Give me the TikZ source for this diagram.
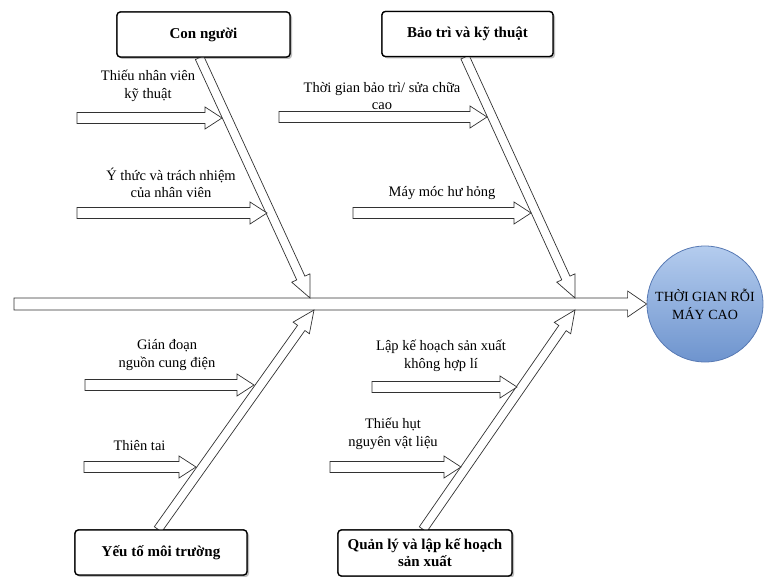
\documentclass[tikz,border=0pt]{standalone}
\usepackage{fontspec}
\setmainfont{Liberation Serif}
\usetikzlibrary{
  calc,
  shadows}
\definecolor{effecttop}{RGB}{180,204,238}
\definecolor{effectbottom}{RGB}{110,148,206}
\definecolor{effectline}{RGB}{88,122,180}
\definecolor{arrowcolor}{RGB}{50,50,50}
\tikzset{
  %% category : the boxes at the ends of the bones
  category/.style={
    rectangle,
    rounded corners=0.12cm,
    draw=black,
    line width=1.3pt,
    fill=white,
    drop shadow={shadow xshift=2pt, shadow yshift=-2pt, opacity=0.3},
    minimum width=173pt,
    minimum height=45pt,
    inner sep=1pt,
    font=\fontsize{15}{17}\selectfont\bfseries,
    align=center
  },
  %% cause : text above a cause arrow
  cause/.style={
    inner sep=0pt,
    font=\fontsize{14.5}{17.5}\selectfont,
    align=center
  },
  %% effect : the problem at the head of the fish
  effect/.style={
    circle,
    draw=effectline,
    line width=0.8pt,
    top color=effecttop,
    bottom color=effectbottom,
    minimum size=116pt,
    inner sep=0pt,
    font=\fontsize{14}{18}\selectfont,
    align=center
  },
  %% hollow : outline of the block arrows
  hollow/.style={draw=arrowcolor, fill=white, line width=0.7pt, line join=miter}
}
%% \hollowarrow{from}{to}{shaft half width}{head half width}{head length}
\newcommand{\hollowarrow}[5]{%
  \coordinate (head base) at ($(#2)!#5!(#1)$);
  \filldraw [hollow]
    ($(#1)!#3!90:(#2)$) -- ($(head base)!#3!90:(#2)$)
    -- ($(head base)!#4!90:(#2)$) -- (#2)
    -- ($(head base)!#4!-90:(#2)$) -- ($(head base)!#3!-90:(#2)$)
    -- ($(#1)!#3!-90:(#2)$) -- cycle;
}

\begin{document}
\begin{tikzpicture}
  [x=1pt,
  y=-1pt,
  align=center]

  \useasboundingbox (0,0) rectangle (776,577);

  %% Effect
  \node (effect) [effect] at (705,304) {THỜI GIAN RỖI\\MÁY CAO};

  %% Categories
  \node (people) [category] at (203.5,34.5) {Con người};
  \node (maint) [category, minimum width=171pt] at (467.5,34) {Bảo trì và kỹ thuật};
  \node (env) [category, minimum width=172pt] at (161,552.5) {Yếu tố môi trường};
  \node (plan) [category, minimum width=174pt, minimum height=46pt] at (425,553)
    {Quản lý và lập kế hoạch\\sản xuất};

  %% Spine
  \coordinate (spine tail) at (14,304);
  \hollowarrow{spine tail}{effect.west}{6pt}{13pt}{19pt}

  %% Bones
  \coordinate (people tail) at ($(people.south)+(-4,0)$);
  \coordinate (people hit) at (310,298);
  \coordinate (maint tail) at ($(maint.south)+(-2.5,0)$);
  \coordinate (maint hit) at (575,298);
  \coordinate (env tail) at ($(env.north)+(-3,0)$);
  \coordinate (env hit) at (314,310);
  \coordinate (plan tail) at ($(plan.north)+(-2,0)$);
  \coordinate (plan hit) at (575,310);
  \hollowarrow{people tail}{people hit}{4.5pt}{10pt}{22pt}
  \hollowarrow{maint tail}{maint hit}{4.5pt}{10pt}{22pt}
  \hollowarrow{env tail}{env hit}{4.5pt}{10pt}{22pt}
  \hollowarrow{plan tail}{plan hit}{4.5pt}{10pt}{22pt}

  %% redraw boxes over the bone tails
  \node [category] at (people) {Con người};
  \node [category, minimum width=171pt] at (maint) {Bảo trì và kỹ thuật};
  \node [category, minimum width=172pt] at (env) {Yếu tố môi trường};
  \node [category, minimum width=174pt, minimum height=46pt] at (plan)
    {Quản lý và lập kế hoạch\\sản xuất};

  %% Causes: Con người
  \node (staff) [cause] at (148,86) {Thiếu nhân viên\\kỹ thuật};
  \coordinate (staff tail) at (77,118);
  \coordinate (staff tip) at (222,118);
  \hollowarrow{staff tail}{staff tip}{5.5pt}{11pt}{17pt}

  \node (duty) [cause] at (171,183) {Ý thức và trách nhiệm\\của nhân viên};
  \coordinate (duty tail) at (77,213);
  \coordinate (duty tip) at (267,213);
  \hollowarrow{duty tail}{duty tip}{5.5pt}{11pt}{17pt}

  %% Causes: Bảo trì và kỹ thuật
  \node (repair) [cause] at (382,96) {Thời gian bảo trì/ sửa chữa\\cao};
  \coordinate (repair tail) at (279,117);
  \coordinate (repair tip) at (487,117);
  \hollowarrow{repair tail}{repair tip}{5.5pt}{11pt}{17pt}

  \node (broken) [cause] at (442,193) {Máy móc hư hỏng};
  \coordinate (broken tail) at (353,213);
  \coordinate (broken tip) at (531,213);
  \hollowarrow{broken tail}{broken tip}{5.5pt}{11pt}{17pt}

  %% Causes: Yếu tố môi trường
  \node (power) [cause] at (167,355) {Gián đoạn\\nguồn cung điện};
  \coordinate (power tail) at (85,385);
  \coordinate (power tip) at (254,385);
  \hollowarrow{power tail}{power tip}{5.5pt}{11pt}{17pt}

  \node (disaster) [cause] at (139.5,446) {Thiên tai};
  \coordinate (disaster tail) at (84,467);
  \coordinate (disaster tip) at (196,467);
  \hollowarrow{disaster tail}{disaster tip}{5.5pt}{11pt}{17pt}

  %% Causes: Quản lý và lập kế hoạch sản xuất
  \node (schedule) [cause] at (441,356) {Lập kế hoạch sản xuất\\không hợp lí};
  \coordinate (schedule tail) at (372,387);
  \coordinate (schedule tip) at (517,387);
  \hollowarrow{schedule tail}{schedule tip}{5.5pt}{11pt}{17pt}

  \node (material) [cause] at (393,434) {Thiếu hụt\\nguyên vật liệu};
  \coordinate (material tail) at (330,467);
  \coordinate (material tip) at (461,467);
  \hollowarrow{material tail}{material tip}{5.5pt}{11pt}{17pt}

\end{tikzpicture}
\end{document}
